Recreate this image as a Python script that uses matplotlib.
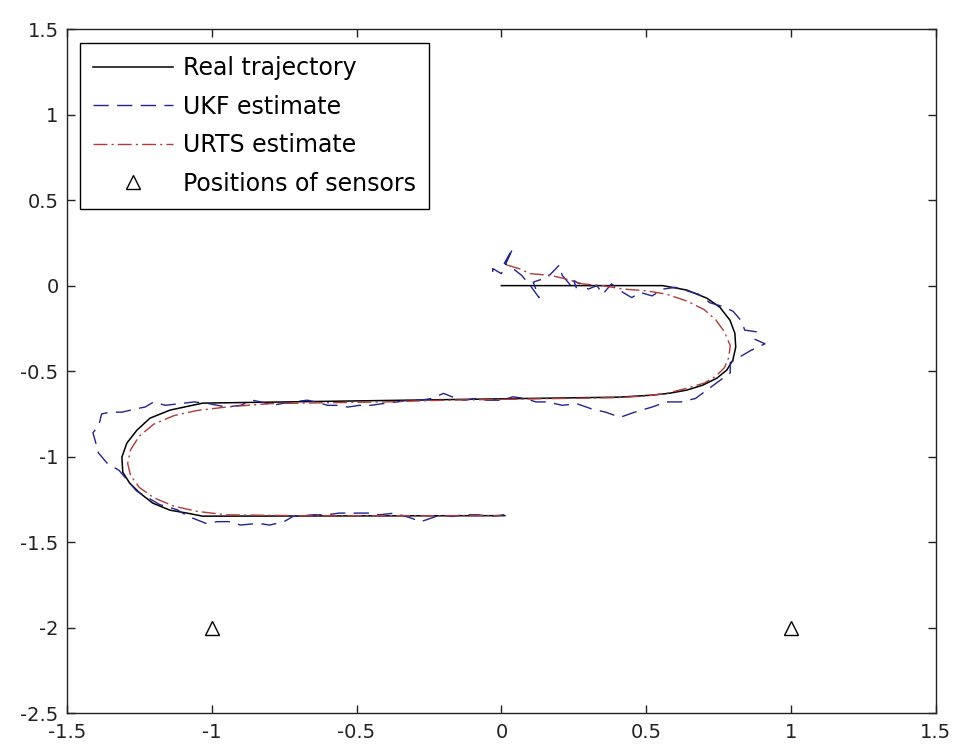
import matplotlib
matplotlib.use("Agg")
import matplotlib.pyplot as plt

plt.rcParams['font.family'] = ['DejaVu Sans']
plt.rcParams['lines.scale_dashes'] = False

# true target path
real_x = [0.000, 0.557, 0.640, 0.709, 0.754, 0.789, 0.806, 0.809, 0.799, 0.778,
          0.744, 0.695, 0.640, 0.581, 0.523, 0.409, -1.031, -1.144, -1.213, -1.258,
          -1.293, -1.310, -1.307, -1.283, -1.248, -1.203, -1.144, -1.086, -1.031, 0.012]
real_y = [0.000, 0.000, -0.026, -0.073, -0.126, -0.202, -0.278, -0.360, -0.436, -0.494,
          -0.541, -0.582, -0.611, -0.629, -0.640, -0.652, -0.687, -0.728, -0.775, -0.845,
          -0.921, -1.003, -1.091, -1.155, -1.213, -1.272, -1.313, -1.330, -1.348, -1.345]

# filtered estimate
ukf_x = [-0.03, -0.03, 0.00, 0.04, 0.01, 0.04, 0.07, 0.10, 0.13, 0.11,
         0.16, 0.20, 0.21, 0.24, 0.26, 0.25, 0.28, 0.30, 0.33, 0.35,
         0.38, 0.42, 0.45, 0.48, 0.52, 0.56, 0.60, 0.64, 0.68, 0.72,
         0.76, 0.80, 0.83, 0.84, 0.88, 0.87, 0.91, 0.86, 0.82, 0.79,
         0.79, 0.75, 0.71, 0.67, 0.62, 0.57, 0.52, 0.46, 0.41, 0.36,
         0.31, 0.26, 0.21, 0.16, 0.12, 0.08, 0.04, 0.00, -0.05, -0.09,
         -0.13, -0.17, -0.20, -0.24, -0.28, -0.32, -0.36, -0.41, -0.45, -0.49,
         -0.53, -0.57, -0.60, -0.64, -0.67, -0.72, -0.76, -0.79, -0.83, -0.86,
         -0.90, -0.95, -1.01, -1.06, -1.11, -1.16, -1.20, -1.23, -1.26, -1.31,
         -1.35, -1.38, -1.39, -1.41, -1.40, -1.40, -1.39, -1.36, -1.32, -1.29,
         -1.26, -1.21, -1.18, -1.12, -1.08, -1.02, -0.98, -0.94, -0.90, -0.84,
         -0.80, -0.75, -0.72, -0.65, -0.60, -0.56, -0.51, -0.46, -0.42, -0.37,
         -0.31, -0.28, -0.26, -0.21, -0.17, -0.13, -0.08, -0.04, 0.01]
ukf_y = [0.08, 0.10, 0.07, 0.22, 0.13, 0.10, 0.06, 0.00, -0.07, 0.02,
         0.05, 0.12, 0.06, 0.00, -0.02, 0.03, 0.00, -0.02, 0.00, -0.05,
         0.01, -0.04, -0.07, -0.04, -0.06, -0.02, -0.01, -0.03, -0.05, -0.10,
         -0.12, -0.15, -0.21, -0.26, -0.27, -0.31, -0.34, -0.38, -0.42, -0.45,
         -0.51, -0.56, -0.61, -0.66, -0.68, -0.68, -0.71, -0.74, -0.77, -0.74,
         -0.72, -0.69, -0.70, -0.68, -0.68, -0.66, -0.65, -0.67, -0.67, -0.66,
         -0.67, -0.65, -0.63, -0.66, -0.67, -0.67, -0.68, -0.69, -0.70, -0.70,
         -0.71, -0.70, -0.70, -0.68, -0.67, -0.68, -0.69, -0.70, -0.68, -0.67,
         -0.70, -0.71, -0.69, -0.68, -0.69, -0.70, -0.68, -0.71, -0.72, -0.74,
         -0.74, -0.75, -0.82, -0.86, -0.92, -0.95, -0.98, -1.04, -1.08, -1.14,
         -1.20, -1.25, -1.28, -1.31, -1.35, -1.39, -1.38, -1.38, -1.40, -1.39,
         -1.40, -1.38, -1.35, -1.34, -1.34, -1.33, -1.33, -1.33, -1.34, -1.33,
         -1.36, -1.38, -1.37, -1.34, -1.35, -1.34, -1.34, -1.35, -1.34]

# smoothed estimate
urts_x = [0.02, 0.06, 0.10, 0.17, 0.22, 0.28, 0.35, 0.42, 0.50, 0.57,
          0.64, 0.70, 0.74, 0.77, 0.79, 0.785, 0.77, 0.74, 0.70, 0.64,
          0.57, 0.50, 0.40, 0.20, 0.00, -0.20, -0.40, -0.60, -0.80, -0.95,
          -1.05, -1.13, -1.20, -1.25, -1.28, -1.29, -1.28, -1.25, -1.20, -1.13,
          -1.05, -0.95, -0.70, -0.40, -0.10, 0.00]
urts_y = [0.12, 0.10, 0.07, 0.06, 0.04, 0.01, 0.00, -0.02, -0.03, -0.05,
          -0.09, -0.14, -0.20, -0.27, -0.35, -0.42, -0.48, -0.53, -0.57, -0.60,
          -0.63, -0.645, -0.655, -0.66, -0.665, -0.67, -0.68, -0.685, -0.69, -0.71,
          -0.73, -0.76, -0.81, -0.88, -0.96, -1.04, -1.11, -1.18, -1.24, -1.29,
          -1.32, -1.34, -1.345, -1.345, -1.345, -1.345]

sensor_x = [-1, 1]
sensor_y = [-2, -2]

fig = plt.figure(figsize=(9.55, 7.46), dpi=100)
ax = fig.add_axes([0.070, 0.044, 0.910, 0.917])

ax.plot(real_x, real_y, color='black', lw=1.1, label='Real trajectory')
ax.plot(ukf_x, ukf_y, color='#23238f', lw=1.0, dashes=(11, 6),
        label='UKF estimate')
ax.plot(urts_x, urts_y, color='#b23a3a', lw=1.0, dashes=(10, 3, 1.5, 3),
        label='URTS estimate')
ax.plot(sensor_x, sensor_y, linestyle='none', marker='^', ms=10,
        mfc='none', mec='black', mew=1.0, label='Positions of sensors')

ax.set_xlim(-1.5, 1.5)
ax.set_ylim(-2.5, 1.5)
ax.set_xticks([-1.5, -1, -0.5, 0, 0.5, 1, 1.5])
ax.set_xticklabels(['-1.5', '-1', '-0.5', '0', '0.5', '1', '1.5'])
ax.set_yticks([-2.5, -2, -1.5, -1, -0.5, 0, 0.5, 1, 1.5])
ax.set_yticklabels(['-2.5', '-2', '-1.5', '-1', '-0.5', '0', '0.5', '1', '1.5'])
ax.tick_params(direction='in', length=6, width=1.0, top=True, right=True,
               labelsize=14, colors='#222222')
ax.tick_params(axis='x', pad=7)
ax.tick_params(axis='y', pad=6)
for s in ax.spines.values():
    s.set_linewidth(1.0)
    s.set_color('#222222')

leg = ax.legend(loc='upper left', bbox_to_anchor=(0.015, 0.9795),
                borderaxespad=0, fontsize=17, numpoints=1, handlelength=3.4,
                handletextpad=0.4, labelspacing=0.61, borderpad=0.56,
                fancybox=False, framealpha=1, edgecolor='black')
leg.get_frame().set_linewidth(1.0)

fig.savefig('out.png', dpi=100, facecolor='white')
